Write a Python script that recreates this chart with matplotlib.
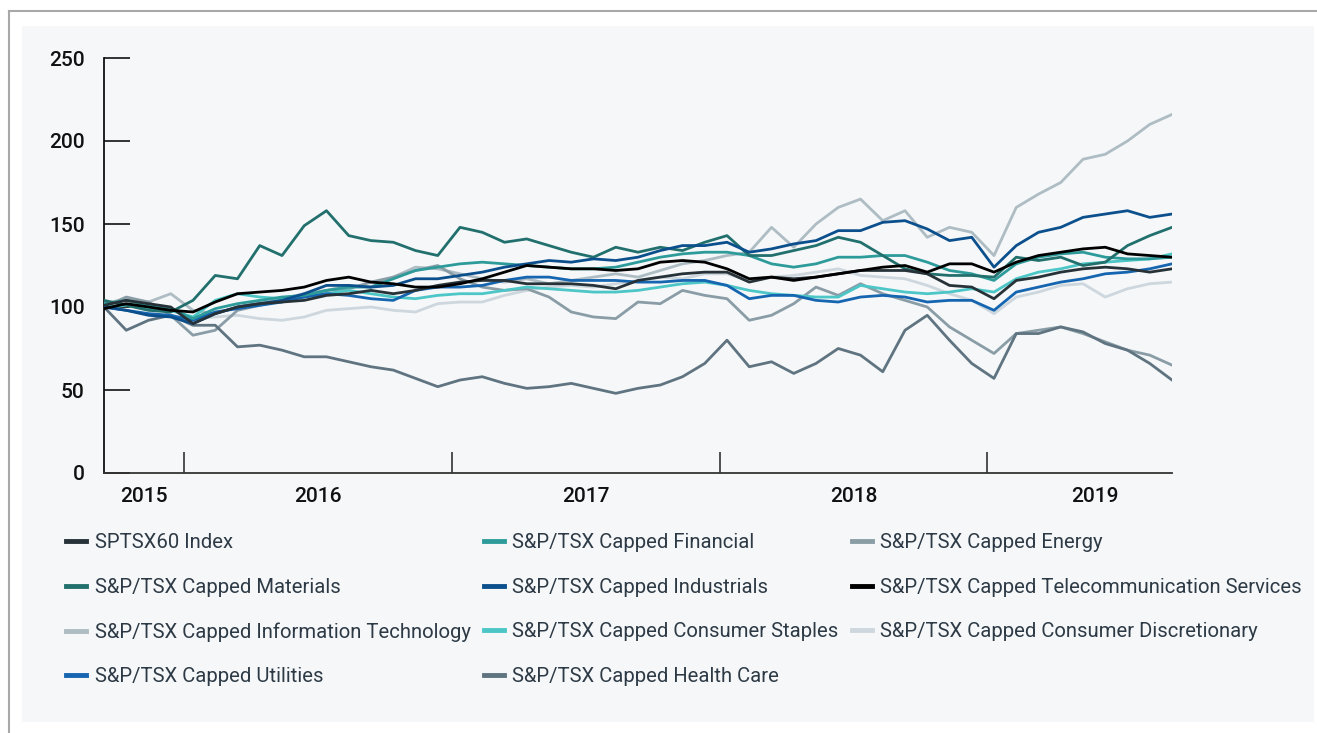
import numpy as np
import matplotlib
matplotlib.use("Agg")
import matplotlib.pyplot as plt
from matplotlib.lines import Line2D
from matplotlib.patches import Rectangle

plt.rcParams['font.family'] = ['Roboto', 'DejaVu Sans']

# monthly readings, Sept 2015 -> Sept 2019 (index = 100)
sptsx60 = [101, 104, 102, 100, 90, 96, 100, 102, 103, 104, 107, 108, 110, 108, 110, 113, 115, 116, 116, 114,
           114, 114, 113, 111, 116, 118, 120, 121, 121, 115, 118, 117, 118, 120, 122, 122, 122, 120, 113, 112,
           105, 116, 118, 121, 123, 124, 123, 121, 123]
financial = [102, 104, 101, 99, 93, 99, 102, 104, 106, 107, 110, 112, 112, 117, 122, 124, 126, 127, 126, 125,
             124, 123, 123, 124, 127, 130, 132, 133, 133, 131, 126, 124, 126, 130, 130, 131, 131, 127, 122, 120,
             116, 126, 130, 132, 133, 130, 129, 129, 130]
energy = [100, 106, 103, 95, 83, 86, 98, 101, 104, 107, 110, 111, 115, 118, 122, 125, 117, 112, 110, 111,
          106, 97, 94, 93, 103, 102, 110, 107, 105, 92, 95, 102, 112, 107, 114, 108, 104, 100, 88, 80,
          72, 84, 86, 88, 84, 79, 74, 71, 65]
materials = [104, 101, 98, 97, 104, 119, 117, 137, 131, 149, 158, 143, 140, 139, 134, 131, 148, 145, 139, 141,
             137, 133, 130, 136, 133, 136, 134, 139, 143, 131, 131, 134, 137, 142, 139, 131, 123, 120, 119, 119,
             118, 130, 128, 130, 125, 127, 137, 143, 148]
industrials = [100, 98, 95, 94, 90, 96, 100, 102, 104, 108, 113, 113, 112, 113, 117, 117, 119, 121, 124, 126,
               128, 127, 129, 128, 130, 134, 137, 137, 139, 133, 135, 138, 140, 146, 146, 151, 152, 147, 140, 142,
               124, 137, 145, 148, 154, 156, 158, 154, 156]
telecom = [99, 102, 100, 98, 97, 103, 108, 109, 110, 112, 116, 118, 115, 114, 112, 112, 114, 117, 121, 125,
           124, 123, 123, 122, 123, 127, 128, 127, 123, 117, 118, 116, 118, 120, 122, 124, 125, 121, 126, 126,
           121, 127, 131, 133, 135, 136, 132, 131, 130]
info_tech = [102, 105, 103, 108, 98, 96, 100, 103, 105, 108, 110, 113, 112, 118, 124, 123, 120, 117, 115, 117,
             114, 116, 118, 120, 118, 122, 126, 128, 131, 133, 148, 136, 150, 160, 165, 152, 158, 142, 148, 145,
             131, 160, 168, 175, 189, 192, 200, 210, 216]
staples = [100, 101, 99, 98, 94, 104, 108, 106, 105, 106, 108, 110, 108, 106, 105, 107, 108, 108, 110, 112,
           111, 110, 109, 109, 110, 112, 114, 115, 113, 110, 108, 107, 106, 106, 113, 111, 109, 108, 109, 111,
           109, 117, 121, 123, 126, 127, 128, 129, 132]
cons_disc = [100, 101, 99, 98, 93, 94, 95, 93, 92, 94, 98, 99, 100, 98, 97, 102, 103, 103, 107, 110,
             112, 113, 112, 114, 116, 118, 117, 120, 120, 116, 118, 119, 121, 123, 119, 118, 117, 113, 108, 104,
             96, 106, 109, 113, 114, 106, 111, 114, 115]
utilities = [100, 98, 96, 95, 92, 97, 99, 101, 103, 106, 108, 107, 105, 104, 110, 112, 112, 113, 116, 118,
             118, 116, 116, 116, 115, 115, 116, 116, 113, 105, 107, 107, 104, 103, 106, 107, 106, 103, 104, 104,
             98, 109, 112, 115, 117, 120, 121, 123, 126]
health = [100, 86, 92, 95, 89, 89, 76, 77, 74, 70, 70, 67, 64, 62, 57, 52, 56, 58, 54, 51,
          52, 54, 51, 48, 51, 53, 58, 66, 80, 64, 67, 60, 66, 75, 71, 61, 86, 95, 80, 66,
          57, 84, 84, 88, 85, 78, 74, 66, 56]

names = ["SPTSX60 Index", "S&P/TSX Capped Financial", "S&P/TSX Capped Energy",
         "S&P/TSX Capped Materials", "S&P/TSX Capped Industrials",
         "S&P/TSX Capped Telecommunication Services",
         "S&P/TSX Capped Information Technology", "S&P/TSX Capped Consumer Staples",
         "S&P/TSX Capped Consumer Discretionary",
         "S&P/TSX Capped Utilities", "S&P/TSX Capped Health Care"]
series = [sptsx60, financial, energy, materials, industrials, telecom,
          info_tech, staples, cons_disc, utilities, health]
colors = ["#263238", "#2e9b9b", "#8a9da6", "#22706d", "#0b4f8c", "#000000",
          "#aebcc3", "#4cc6c6", "#cdd7dd", "#1565b0", "#5f7480"]

years = [2016, 2017, 2018, 2019]
year_labels = ["2015", "2016", "2017", "2018", "2019"]
label_pos = [2015.85, 2016.5, 2017.5, 2018.5, 2019.40]
x = np.linspace(2015.70, 2019.69, len(sptsx60))

fig = plt.figure(figsize=(13.17, 7.33), dpi=100)
fig.patch.set_facecolor("white")

# light panel + grey frame lines
fig.add_artist(Rectangle((22 / 1317, 1 - 722 / 733), (1314 - 22) / 1317, (722 - 26) / 733,
                         transform=fig.transFigure, facecolor="#f5f7f9", edgecolor="none", zorder=0))
fig.add_artist(Line2D([9 / 1317, 1], [1 - 11 / 733, 1 - 11 / 733], transform=fig.transFigure,
                      color="#a8a8a8", lw=1.5))
fig.add_artist(Line2D([9 / 1317, 9 / 1317], [0, 1 - 11 / 733], transform=fig.transFigure,
                      color="#a8a8a8", lw=1.5))

ax = fig.add_axes([104 / 1317, 1 - 473 / 733, (1172 - 104) / 1317, (473 - 58) / 733])
ax.set_facecolor("none")

draw_order = [8, 6, 2, 10, 7, 9, 1, 3, 4, 0, 5]
for i in draw_order:
    ax.plot(x, series[i], color=colors[i], lw=2.0, label=names[i], zorder=3)

ax.set_xlim(x[0], x[-1])
ax.set_ylim(0, 250)
ax.set_yticks([0, 50, 100, 150, 200, 250])
ax.tick_params(axis="y", direction="in", length=19, width=1.2, color="#111111",
               labelsize=15, pad=14, labelcolor="#111111")
for lab in ax.get_yticklabels():
    lab.set_fontweight("medium")

ax.set_xticks(years)
ax.set_xticklabels([])
ax.tick_params(axis="x", which="major", direction="in", length=15, width=1.2, color="#333333")
ax.set_xticks(label_pos, minor=True)
ax.set_xticklabels(year_labels, minor=True, fontsize=15, fontweight="medium", color="#111111")
ax.tick_params(axis="x", which="minor", length=0, pad=10)

for s in ["top", "right"]:
    ax.spines[s].set_visible(False)
ax.spines["left"].set_color("#111111")
ax.spines["left"].set_linewidth(1.3)
ax.spines["bottom"].set_color("#333333")
ax.spines["bottom"].set_linewidth(1.3)

# legend, filled column by column
col_order = [0, 3, 6, 9, 1, 4, 7, 10, 2, 5, 8]
handles = [Line2D([], [], color=colors[i], lw=3.5) for i in col_order]
labels = [names[i] for i in col_order]
fig.legend(handles, labels, loc="upper left", bbox_to_anchor=(56 / 1317, 1 - 523 / 733),
           ncol=3, frameon=False, fontsize=14.6, handlelength=1.0, handletextpad=0.4,
           columnspacing=0.65, labelspacing=1.26, borderpad=0, labelcolor="#2d3a45")

fig.savefig("out.png", dpi=100)
